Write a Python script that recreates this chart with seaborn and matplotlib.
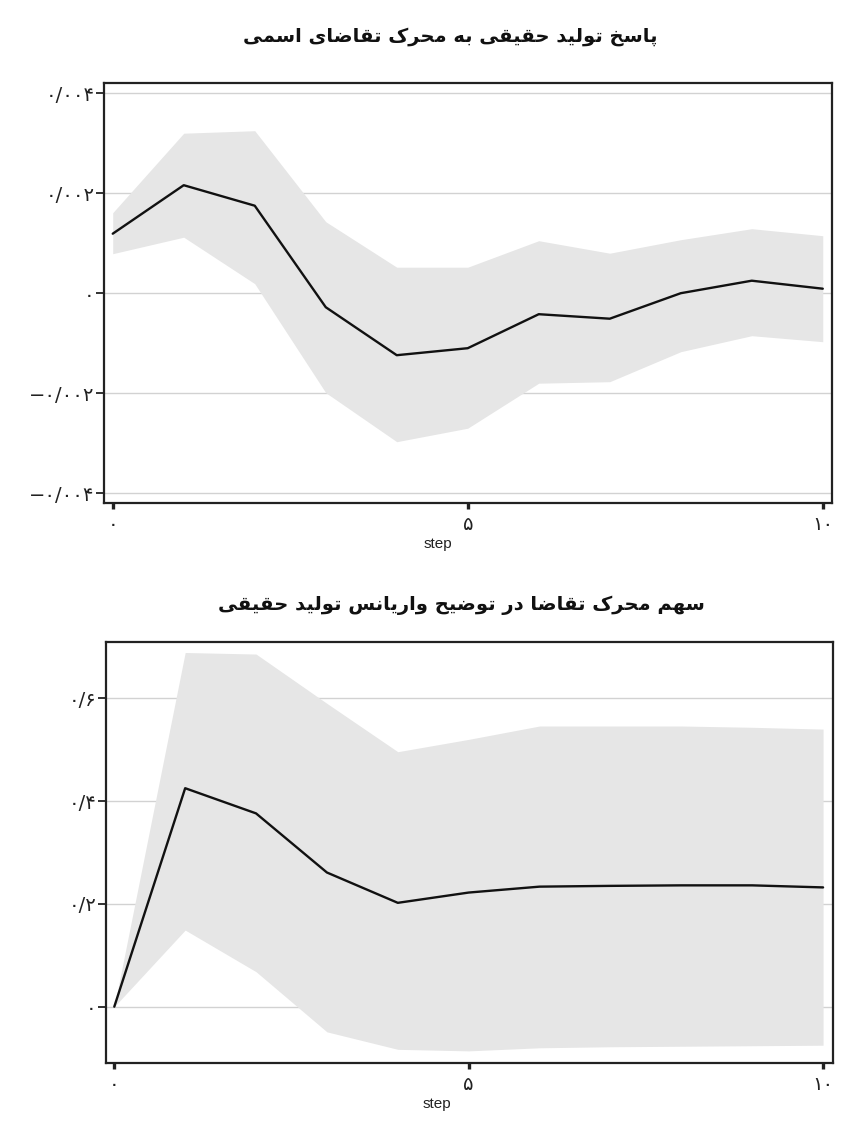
import numpy as np
import pandas as pd
import matplotlib
matplotlib.use("Agg")
import matplotlib.pyplot as plt
import seaborn as sns

# impulse response of real output to nominal demand shock, with band
steps = list(range(11))
irf = [0.00119, 0.00216, 0.00175, -0.00028, -0.00124, -0.00110, -0.00042, -0.00051, 0.00000, 0.00025, 0.00009]
irf_hi = [0.00161, 0.00320, 0.00325, 0.00143, 0.00052, 0.00052, 0.00105, 0.00080, 0.00107, 0.00129, 0.00115]
irf_lo = [0.00079, 0.00112, 0.00019, -0.00199, -0.00297, -0.00270, -0.00180, -0.00177, -0.00117, -0.00085, -0.00097]

# variance decomposition share
fevd = [0.0, 0.425, 0.376, 0.261, 0.202, 0.222, 0.2335, 0.235, 0.236, 0.236, 0.232]
fevd_hi = [0.0, 0.689, 0.686, 0.590, 0.496, 0.520, 0.546, 0.546, 0.546, 0.5435, 0.540]
fevd_lo = [0.0, 0.149, 0.068, -0.049, -0.083, -0.086, -0.080, -0.078, -0.077, -0.076, -0.075]

x_ticks = [0, 5, 10]
x_ticklabels = ["۰", "۵", "۱۰"]
y1_ticks = [-0.004, -0.002, 0, 0.002, 0.004]
y1_ticklabels = ["−۰/۰۰۴", "−۰/۰۰۲", "۰", "۰/۰۰۲", "۰/۰۰۴"]
y2_ticks = [0, 0.2, 0.4, 0.6]
y2_ticklabels = ["۰", "۰/۲", "۰/۴", "۰/۶"]

title1 = "پاسخ تولید حقیقی به محرک تقاضای اسمی"
title2 = "سهم محرک تقاضا در توضیح واریانس تولید حقیقی"

# minimal Persian shaping (matplotlib has no complex text layout)
FORMS = {
    "ا": ("\uFE8D", "\uFE8E", None, None),
    "ب": ("\uFE8F", "\uFE90", "\uFE91", "\uFE92"),
    "پ": ("\uFB56", "\uFB57", "\uFB58", "\uFB59"),
    "ت": ("\uFE95", "\uFE96", "\uFE97", "\uFE98"),
    "ح": ("\uFEA1", "\uFEA2", "\uFEA3", "\uFEA4"),
    "خ": ("\uFEA5", "\uFEA6", "\uFEA7", "\uFEA8"),
    "د": ("\uFEA9", "\uFEAA", None, None),
    "ر": ("\uFEAD", "\uFEAE", None, None),
    "ز": ("\uFEAF", "\uFEB0", None, None),
    "س": ("\uFEB1", "\uFEB2", "\uFEB3", "\uFEB4"),
    "ض": ("\uFEBD", "\uFEBE", "\uFEBF", "\uFEC0"),
    "ق": ("\uFED5", "\uFED6", "\uFED7", "\uFED8"),
    "ک": ("\uFB8E", "\uFB8F", "\uFB90", "\uFB91"),
    "ل": ("\uFEDD", "\uFEDE", "\uFEDF", "\uFEE0"),
    "م": ("\uFEE1", "\uFEE2", "\uFEE3", "\uFEE4"),
    "ن": ("\uFEE5", "\uFEE6", "\uFEE7", "\uFEE8"),
    "ه": ("\uFEE9", "\uFEEA", "\uFEEB", "\uFEEC"),
    "و": ("\uFEED", "\uFEEE", None, None),
    "ی": ("\uFBFC", "\uFBFD", "\uFBFE", "\uFBFF"),
}


def shape(text):
    out = []
    for i, c in enumerate(text):
        if c not in FORMS:
            out.append(c)
            continue
        prev = text[i - 1] if i > 0 else None
        nxt = text[i + 1] if i + 1 < len(text) else None
        join_prev = prev in FORMS and FORMS[prev][2] is not None
        join_next = nxt in FORMS and FORMS[c][2] is not None
        iso, fin, ini, med = FORMS[c]
        if join_prev and join_next:
            out.append(med)
        elif join_prev:
            out.append(fin)
        elif join_next:
            out.append(ini)
        else:
            out.append(iso)
    return "".join(reversed(out))


sns.set_style("white")
plt.rcParams["font.family"] = ["DejaVu Sans"]

fig = plt.figure(figsize=(8.46, 11.22), dpi=100)
fig.patch.set_facecolor("white")
ax1 = fig.add_axes([104 / 846, 1 - 502.7 / 1122, 728 / 846, 420 / 1122])
ax2 = fig.add_axes([106 / 846, 1 - 1062.7 / 1122, 727 / 846, 421 / 1122])

panels = [
    (ax1, irf, irf_lo, irf_hi, y1_ticks, y1_ticklabels, (-0.00419, 0.00421), (-0.123, 10.13), 0.459),
    (ax2, fevd, fevd_lo, fevd_hi, y2_ticks, y2_ticklabels, (-0.109, 0.710), (-0.117, 10.14), 0.455),
]

for ax, mid, lo, hi, yt, ytl, ylim, xlim, xlab_pos in panels:
    df = pd.DataFrame({"step": steps, "val": mid})
    ax.set_axisbelow(True)
    for y in yt:
        ax.axhline(y, color="#d2d2d2", lw=1.0, zorder=0.5)
    ax.fill_between(steps, lo, hi, color="#e6e6e6", lw=0, zorder=1)
    sns.lineplot(data=df, x="step", y="val", ax=ax, color="#111111", lw=1.7, zorder=3)
    ax.set_xlim(*xlim)
    ax.set_ylim(*ylim)
    ax.set_xticks(x_ticks)
    ax.set_xticklabels(x_ticklabels, fontsize=14, color="#222222")
    ax.set_yticks(yt)
    ax.set_yticklabels(ytl, fontsize=14, color="#222222")
    ax.tick_params(axis="x", bottom=True, direction="out", length=4, width=2.4, pad=5, color="#222222")
    ax.tick_params(axis="y", left=True, direction="out", length=6, width=1.3, pad=1, color="#222222")
    for s in ax.spines.values():
        s.set_color("#222222")
        s.set_linewidth(1.6)
    ax.set_xlabel("step", fontsize=11, family="Liberation Sans", color="#222222", labelpad=2)
    ax.xaxis.label.set_x(xlab_pos)
    ax.set_ylabel("")
    ax.set_facecolor("white")

fig.text(450 / 846, 1 - 36 / 1122, shape(title1), ha="center", va="center",
         fontsize=14, fontweight="bold", color="#111111")
fig.text(461 / 846, 1 - 605 / 1122, shape(title2), ha="center", va="center",
         fontsize=14, fontweight="bold", color="#111111")

fig.savefig("out.png", dpi=100, facecolor="white")
